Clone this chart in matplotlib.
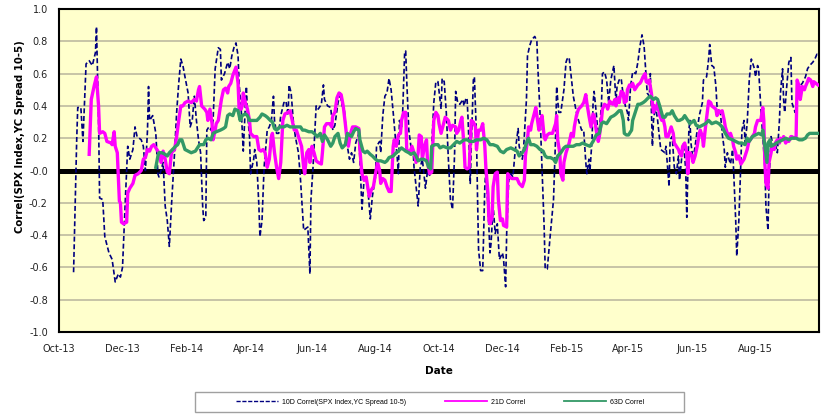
import numpy as np
import pandas as pd
import matplotlib
matplotlib.use("Agg")
import matplotlib.pyplot as plt
import matplotlib.dates as mdates
from matplotlib.lines import Line2D
from matplotlib.patches import Rectangle

# Data: day offsets from the start date and correlation values
start_date = pd.Timestamp("2013-10-01")

d10_days = [14, 17, 18, 21, 23, 26, 29, 32, 35, 36, 38, 39, 42, 44, 48, 51, 54, 57, 59, 61,
            64, 66, 68, 71, 73, 75, 77, 79, 81, 83, 85, 86, 87, 90, 93, 95, 96, 98, 100, 102,
            104, 106, 108, 111, 113, 115, 117, 119, 121, 124, 126, 128, 130, 132, 134, 136, 138, 139, 141, 142,
            144, 146, 148, 150, 153, 155, 156, 159, 162, 164, 166, 168, 170, 172, 173, 175, 176, 177, 179, 180,
            181, 183, 184, 187, 188, 190, 192, 193, 195, 197, 200, 202, 204, 206, 207, 209, 211, 213, 216, 218,
            220, 221, 223, 225, 227, 230, 232, 233, 235, 237, 239, 241, 242, 244, 245, 247, 249, 252, 254, 255,
            258, 261, 263, 265, 268, 270, 272, 274, 277, 279, 281, 283, 285, 288, 289, 291, 293, 295, 297, 299,
            301, 304, 305, 308, 309, 311, 313, 315, 317, 319, 321, 323, 325, 326, 327, 329, 330, 332, 333, 334,
            336, 338, 340, 341, 343, 345, 347, 349, 352, 354, 356, 358, 360, 362, 364, 367, 368, 370, 372, 374,
            376, 378, 380, 381, 383, 385, 388, 389, 391, 392, 393, 395, 396, 398, 399, 401, 402, 403, 405, 407,
            409, 410, 412, 414, 415, 417, 419, 421, 423, 426, 427, 429, 430, 432, 434, 436, 438, 441, 442, 445,
            446, 449, 450, 452, 454, 457, 459, 460, 462, 464, 466, 467, 469, 472, 475, 477, 478, 480, 482, 485,
            487, 488, 490, 492, 494, 497, 499, 502, 504, 506, 507, 509, 510, 512, 513, 514, 516, 518, 519, 521,
            522, 524, 526, 528, 530, 533, 535, 536, 538, 540, 542, 544, 546, 547, 549, 551, 554, 556, 558, 560,
            562, 563, 565, 567, 568, 570, 571, 573, 575, 578, 580, 582, 583, 586, 587, 589, 591, 593, 595, 596,
            598, 600, 602, 603, 605, 606, 607, 609, 611, 613, 615, 618, 619, 622, 624, 625, 627, 629, 631, 632,
            634, 635, 637, 639, 640, 642, 643, 645, 647, 648, 650, 651, 653, 655, 656, 658, 659, 661, 663, 665,
            668, 669, 671, 672, 674, 676, 678, 679, 681, 682, 684, 686, 688, 690, 692, 693, 695, 696, 697, 699,
            701, 703, 704, 707, 709, 711, 714, 717, 719, 721, 724, 726, 728, 730]
d10_vals = [-0.63, 0.19, 0.39, 0.39, 0.18, 0.66, 0.68, 0.65, 0.73, 0.89, 0.31, -0.17, -0.18, -0.41, -0.51, -0.55, -0.69, -0.64, -0.66, -0.60,
            -0.14, 0.15, 0.07, 0.13, 0.27, 0.21, 0.20, 0.19, 0.15, 0.00, 0.25, 0.52, 0.31, 0.34, 0.23, -0.02, -0.04, 0.00, 0.05, -0.22,
            -0.31, -0.47, -0.22, 0.11, 0.36, 0.54, 0.69, 0.65, 0.58, 0.48, 0.27, 0.31, 0.46, 0.31, 0.19, 0.11, -0.22, -0.31, -0.29, 0.25,
            0.27, 0.25, 0.31, 0.63, 0.76, 0.75, 0.56, 0.60, 0.67, 0.63, 0.71, 0.76, 0.79, 0.71, 0.54, 0.38, 0.25, 0.12, 0.40, 0.52,
            0.36, 0.21, -0.02, 0.07, 0.13, 0.05, -0.22, -0.41, -0.31, 0.02, 0.25, 0.27, 0.31, 0.46, 0.31, 0.23, 0.23, 0.34, 0.42, 0.43,
            0.34, 0.53, 0.48, 0.31, 0.21, 0.11, -0.06, -0.16, -0.37, -0.36, -0.35, -0.64, -0.18, 0.02, 0.15, 0.40, 0.38, 0.41, 0.53, 0.44,
            0.40, 0.39, 0.25, 0.28, 0.42, 0.48, 0.40, 0.38, 0.15, 0.07, 0.11, 0.05, 0.17, 0.23, 0.07, -0.24, -0.06, -0.04, -0.14, -0.30,
            -0.16, -0.04, 0.15, 0.18, 0.11, 0.34, 0.46, 0.48, 0.57, 0.50, 0.36, 0.21, 0.07, -0.02, 0.31, 0.27, 0.34, 0.73, 0.74, 0.56,
            0.25, 0.15, 0.15, 0.02, -0.10, -0.22, 0.02, 0.07, -0.11, 0.00, -0.03, 0.15, 0.42, 0.55, 0.55, 0.38, 0.57, 0.55, 0.36, 0.07,
            -0.18, -0.24, 0.11, 0.49, 0.42, 0.41, 0.44, 0.40, 0.45, 0.44, 0.31, -0.08, 0.15, 0.56, 0.58, 0.21, -0.16, -0.49, -0.62, -0.62,
            -0.10, 0.00, -0.22, -0.51, -0.45, -0.22, -0.39, -0.33, -0.55, -0.51, -0.55, -0.72, -0.39, -0.06, -0.02, -0.04, 0.11, 0.26, 0.15, 0.07,
            0.11, 0.44, 0.71, 0.77, 0.81, 0.83, 0.80, 0.63, 0.36, 0.00, -0.35, -0.61, -0.61, -0.39, -0.18, 0.21, 0.52, 0.36, 0.36, 0.50,
            0.67, 0.69, 0.70, 0.58, 0.46, 0.36, 0.31, 0.25, 0.25, 0.05, -0.02, 0.07, 0.00, 0.19, 0.42, 0.49, 0.36, 0.21, 0.25, 0.40,
            0.60, 0.61, 0.56, 0.42, 0.56, 0.65, 0.42, 0.52, 0.56, 0.57, 0.46, 0.40, 0.36, 0.31, 0.52, 0.61, 0.60, 0.67, 0.77, 0.84,
            0.77, 0.67, 0.48, 0.46, 0.60, 0.15, 0.31, 0.40, 0.31, 0.13, 0.12, 0.11, 0.15, -0.10, 0.19, 0.21, 0.02, -0.02, 0.09, -0.06,
            0.07, 0.17, 0.00, -0.29, 0.25, 0.31, 0.17, 0.07, 0.15, 0.25, 0.34, 0.42, 0.56, 0.58, 0.69, 0.78, 0.65, 0.64, 0.52, 0.40,
            0.36, 0.38, 0.23, 0.13, 0.02, 0.11, 0.08, 0.04, 0.13, 0.00, -0.31, -0.53, -0.31, 0.07, 0.25, 0.31, 0.17, 0.29, 0.56, 0.69,
            0.63, 0.58, 0.65, 0.63, 0.40, 0.21, 0.02, -0.22, -0.37, -0.06, 0.21, 0.15, 0.17, 0.11, 0.31, 0.48, 0.63, 0.44, 0.36, 0.52,
            0.67, 0.70, 0.42, 0.36, 0.46, 0.52, 0.54, 0.58, 0.63, 0.65, 0.67, 0.69, 0.72, 0.71]

d21_days = [29, 31, 34, 36, 38, 39, 42, 44, 46, 50, 51, 53, 54, 56, 58, 59, 60, 62, 65, 66,
            68, 71, 73, 76, 79, 81, 83, 85, 87, 89, 91, 94, 96, 98, 100, 102, 104, 106, 108, 111,
            113, 115, 117, 119, 121, 124, 127, 130, 132, 134, 135, 137, 140, 142, 143, 145, 147, 148, 150, 151,
            153, 156, 158, 160, 162, 163, 165, 167, 170, 172, 173, 175, 176, 177, 179, 181, 183, 184, 187, 190,
            192, 194, 196, 198, 200, 202, 204, 205, 207, 209, 211, 213, 215, 217, 220, 222, 224, 226, 228, 230,
            233, 235, 236, 238, 240, 241, 243, 245, 247, 249, 252, 253, 255, 257, 260, 262, 263, 265, 267, 269,
            271, 273, 275, 277, 278, 280, 282, 285, 288, 289, 291, 293, 295, 296, 298, 300, 302, 304, 306, 308,
            309, 311, 313, 315, 317, 319, 321, 322, 324, 326, 328, 329, 331, 333, 334, 337, 339, 341, 343, 345,
            346, 348, 349, 351, 353, 354, 356, 358, 360, 362, 364, 365, 367, 369, 371, 374, 376, 378, 381, 382,
            384, 386, 387, 389, 390, 392, 394, 396, 398, 400, 401, 402, 403, 405, 407, 409, 410, 412, 413, 414,
            416, 417, 419, 421, 422, 424, 426, 427, 430, 431, 433, 435, 437, 440, 442, 445, 447, 448, 450, 451,
            453, 454, 456, 458, 459, 461, 462, 464, 466, 467, 469, 471, 474, 475, 477, 478, 479, 481, 482, 484,
            485, 487, 490, 492, 494, 495, 497, 499, 502, 504, 506, 507, 509, 511, 513, 514, 516, 518, 519, 521,
            522, 524, 526, 527, 529, 530, 532, 534, 535, 537, 538, 540, 542, 543, 545, 546, 548, 550, 551, 553,
            555, 556, 558, 559, 561, 563, 564, 566, 567, 569, 571, 572, 574, 575, 577, 579, 580, 582, 583, 585,
            587, 588, 590, 591, 593, 595, 596, 598, 599, 601, 603, 604, 605, 606, 608, 609, 611, 613, 615, 616,
            618, 619, 621, 623, 624, 626, 627, 629, 631, 632, 634, 635, 637, 639, 640, 642, 643, 645, 647, 648,
            650, 651, 653, 655, 656, 658, 659, 661, 663, 664, 666, 668, 669, 671, 672, 674, 676, 677, 678, 679,
            681, 682, 684, 685, 687, 688, 690, 692, 693, 695, 696, 698, 700, 701, 703, 704, 706, 708, 709, 711,
            712, 714, 716, 717, 719, 720, 722, 724, 725, 727, 729]
d21_vals = [0.10, 0.44, 0.53, 0.58, 0.40, 0.23, 0.24, 0.23, 0.18, 0.17, 0.16, 0.24, 0.15, 0.11, -0.19, -0.20, -0.32, -0.33, -0.32, -0.14,
            -0.11, -0.08, -0.03, -0.02, 0.00, 0.07, 0.08, 0.13, 0.12, 0.15, 0.16, 0.13, 0.11, 0.05, 0.12, 0.07, -0.01, -0.02, 0.11, 0.13,
            0.21, 0.31, 0.40, 0.40, 0.42, 0.43, 0.42, 0.44, 0.43, 0.50, 0.52, 0.40, 0.38, 0.36, 0.31, 0.38, 0.29, 0.19, 0.25, 0.29,
            0.31, 0.44, 0.50, 0.51, 0.48, 0.52, 0.54, 0.59, 0.64, 0.54, 0.38, 0.38, 0.40, 0.48, 0.42, 0.38, 0.31, 0.23, 0.21, 0.21,
            0.13, 0.12, 0.13, 0.11, 0.02, 0.07, 0.21, 0.23, 0.11, 0.02, -0.05, 0.05, 0.31, 0.35, 0.36, 0.37, 0.31, 0.25, 0.25, 0.21,
            0.15, 0.02, -0.02, 0.11, 0.13, 0.05, 0.15, 0.11, 0.06, 0.05, 0.04, 0.11, 0.27, 0.29, 0.29, 0.27, 0.34, 0.36, 0.45, 0.48,
            0.47, 0.40, 0.29, 0.17, 0.15, 0.23, 0.27, 0.27, 0.26, 0.13, -0.02, -0.06, -0.04, -0.08, -0.16, -0.12, -0.10, -0.02, 0.05, 0.00,
            -0.08, -0.05, -0.06, -0.10, -0.13, -0.13, 0.15, 0.19, 0.15, 0.22, 0.23, 0.31, 0.36, 0.36, 0.13, 0.11, 0.15, 0.11, 0.05, 0.11,
            0.22, 0.21, 0.07, 0.15, 0.19, 0.05, -0.02, -0.01, 0.31, 0.36, 0.34, 0.29, 0.23, 0.28, 0.33, 0.31, 0.25, 0.28, 0.27, 0.23,
            0.25, 0.31, 0.33, 0.15, 0.02, 0.01, 0.02, 0.31, 0.30, 0.27, 0.13, 0.19, 0.25, 0.25, 0.29, 0.15, 0.02, -0.14, -0.31, -0.33,
            -0.29, -0.10, -0.02, -0.01, -0.18, -0.31, -0.30, -0.34, -0.35, -0.02, -0.04, -0.05, -0.05, -0.05, -0.08, -0.10, -0.06, 0.09, 0.19, 0.27,
            0.25, 0.29, 0.34, 0.39, 0.34, 0.25, 0.29, 0.34, 0.21, 0.19, 0.22, 0.23, 0.23, 0.25, 0.29, 0.34, 0.19, 0.11, -0.02, -0.06,
            0.05, 0.11, 0.17, 0.23, 0.21, 0.27, 0.34, 0.38, 0.40, 0.42, 0.47, 0.42, 0.34, 0.27, 0.35, 0.34, 0.25, 0.18, 0.21, 0.31,
            0.38, 0.41, 0.40, 0.38, 0.43, 0.42, 0.41, 0.44, 0.40, 0.45, 0.42, 0.49, 0.48, 0.42, 0.43, 0.50, 0.53, 0.52, 0.54, 0.50,
            0.52, 0.53, 0.54, 0.55, 0.58, 0.60, 0.55, 0.54, 0.56, 0.48, 0.36, 0.40, 0.38, 0.42, 0.34, 0.31, 0.33, 0.27, 0.21, 0.21,
            0.25, 0.27, 0.23, 0.17, 0.15, 0.13, 0.11, 0.09, 0.15, 0.17, 0.11, -0.02, 0.11, 0.11, 0.09, 0.05, 0.09, 0.15, 0.23, 0.25,
            0.21, 0.15, 0.27, 0.38, 0.43, 0.42, 0.40, 0.39, 0.38, 0.34, 0.37, 0.36, 0.37, 0.31, 0.27, 0.23, 0.21, 0.23, 0.19, 0.15,
            0.11, 0.07, 0.09, 0.04, 0.05, 0.07, 0.09, 0.13, 0.19, 0.19, 0.21, 0.23, 0.27, 0.31, 0.31, 0.31, 0.39, 0.31, 0.05, -0.08,
            -0.11, 0.05, 0.11, 0.15, 0.13, 0.17, 0.19, 0.17, 0.20, 0.19, 0.21, 0.17, 0.19, 0.18, 0.21, 0.21, 0.20, 0.21, 0.56, 0.52,
            0.44, 0.52, 0.50, 0.52, 0.55, 0.57, 0.56, 0.52, 0.55, 0.54, 0.53]

d63_days = [93, 95, 96, 99, 102, 104, 106, 109, 112, 114, 116, 118, 119, 121, 124, 127, 131, 133, 135, 139,
            141, 143, 146, 148, 151, 155, 158, 160, 162, 164, 167, 169, 172, 174, 176, 179, 181, 183, 187, 190,
            193, 195, 198, 200, 203, 205, 207, 209, 212, 216, 219, 222, 225, 228, 232, 234, 236, 240, 243, 245,
            248, 251, 253, 255, 258, 261, 263, 265, 268, 270, 272, 275, 277, 279, 281, 283, 285, 288, 289, 292,
            294, 296, 299, 301, 304, 306, 309, 313, 315, 317, 321, 324, 326, 329, 331, 333, 336, 338, 341, 343,
            345, 348, 350, 353, 355, 357, 358, 361, 364, 366, 369, 373, 376, 379, 382, 385, 389, 392, 395, 398,
            401, 405, 408, 411, 414, 417, 421, 424, 427, 430, 434, 437, 440, 442, 445, 447, 450, 451, 453, 456,
            459, 462, 465, 467, 469, 472, 475, 477, 479, 482, 485, 487, 490, 494, 497, 500, 503, 506, 510, 513,
            516, 519, 521, 523, 526, 528, 530, 533, 535, 538, 540, 542, 543, 545, 547, 550, 551, 554, 556, 558,
            561, 563, 566, 568, 571, 573, 575, 577, 580, 582, 584, 587, 589, 591, 594, 596, 599, 601, 603, 606,
            608, 610, 612, 615, 618, 621, 624, 627, 631, 634, 637, 640, 643, 647, 650, 653, 656, 659, 661, 663,
            666, 669, 672, 675, 676, 678, 680, 681, 683, 684, 687, 689, 692, 695, 698, 701, 704, 708, 711, 714,
            717, 719, 721, 724, 727, 730]
d63_vals = [0.02, 0.09, 0.11, 0.11, 0.10, 0.09, 0.11, 0.13, 0.15, 0.16, 0.19, 0.19, 0.17, 0.13, 0.12, 0.11, 0.12, 0.14, 0.16, 0.16,
            0.19, 0.20, 0.19, 0.23, 0.24, 0.25, 0.26, 0.27, 0.34, 0.35, 0.34, 0.38, 0.37, 0.31, 0.34, 0.35, 0.34, 0.31, 0.31, 0.31,
            0.33, 0.35, 0.34, 0.33, 0.31, 0.30, 0.26, 0.25, 0.27, 0.27, 0.28, 0.27, 0.27, 0.27, 0.27, 0.25, 0.25, 0.24, 0.24, 0.23,
            0.21, 0.23, 0.18, 0.22, 0.19, 0.15, 0.17, 0.21, 0.23, 0.17, 0.14, 0.16, 0.23, 0.22, 0.21, 0.24, 0.26, 0.25, 0.19, 0.12,
            0.11, 0.12, 0.10, 0.09, 0.07, 0.06, 0.06, 0.05, 0.06, 0.08, 0.09, 0.11, 0.12, 0.14, 0.13, 0.12, 0.11, 0.10, 0.11, 0.09,
            0.06, 0.07, 0.07, 0.06, 0.02, 0.01, 0.15, 0.16, 0.16, 0.14, 0.15, 0.14, 0.14, 0.16, 0.18, 0.17, 0.19, 0.19, 0.18, 0.18,
            0.19, 0.19, 0.20, 0.19, 0.16, 0.16, 0.15, 0.12, 0.11, 0.13, 0.14, 0.13, 0.12, 0.09, 0.11, 0.13, 0.19, 0.20, 0.16, 0.16,
            0.15, 0.13, 0.12, 0.09, 0.08, 0.08, 0.07, 0.05, 0.09, 0.11, 0.14, 0.15, 0.15, 0.15, 0.16, 0.16, 0.17, 0.16, 0.15, 0.18,
            0.22, 0.23, 0.29, 0.30, 0.29, 0.31, 0.33, 0.34, 0.35, 0.37, 0.37, 0.31, 0.23, 0.22, 0.22, 0.25, 0.31, 0.37, 0.41, 0.41,
            0.42, 0.43, 0.45, 0.46, 0.44, 0.45, 0.44, 0.40, 0.33, 0.33, 0.35, 0.35, 0.37, 0.34, 0.31, 0.31, 0.32, 0.34, 0.32, 0.29,
            0.30, 0.31, 0.28, 0.27, 0.28, 0.29, 0.31, 0.29, 0.30, 0.29, 0.27, 0.23, 0.20, 0.19, 0.18, 0.17, 0.17, 0.16, 0.20, 0.18,
            0.21, 0.22, 0.23, 0.22, 0.25, 0.15, 0.05, 0.17, 0.19, 0.15, 0.16, 0.17, 0.18, 0.19, 0.20, 0.19, 0.20, 0.20, 0.19, 0.19,
            0.20, 0.22, 0.23, 0.23, 0.23, 0.23]

tick_dates = pd.date_range("2013-10-01", "2015-08-01", freq="2MS")
labels = ["10D Correl(SPX Index,YC Spread 10-5)", "21D Correl", "63D Correl"]


def to_dates(days):
    return start_date + pd.to_timedelta(days, unit="D")


fig = plt.figure(figsize=(8.26, 4.16), dpi=100)
ax = fig.add_axes([59 / 826, 1 - 332 / 416, 760 / 826, 323 / 416])
ax.set_facecolor("#FFFFCC")

# Zero line sits under the series
ax.axhline(0, color="black", lw=3.6, zorder=2)

ax.plot(to_dates(d10_days), d10_vals, color="#000080", lw=1.2,
        linestyle=(0, (3, 1.6)), zorder=3)
ax.plot(to_dates(d21_days), d21_vals, color="#FF00FF", lw=2.4, zorder=4)
ax.plot(to_dates(d63_days), d63_vals, color="#339966", lw=2.4, zorder=5)

ax.set_ylim(-1.0, 1.0)
ax.set_yticks(np.arange(-1.0, 1.01, 0.2))
ax.yaxis.set_major_formatter(plt.FormatStrFormatter("%.1f"))
ax.set_xlim(start_date, pd.Timestamp("2015-10-01"))
ax.set_xticks(tick_dates)
ax.xaxis.set_major_formatter(mdates.DateFormatter("%b-%y"))

ax.yaxis.grid(True, color="#B8B49C", lw=1.1, zorder=1)
ax.set_axisbelow(True)
ax.tick_params(axis="both", length=0, labelsize=7, colors="#222222")
ax.tick_params(axis="y", pad=8)
ax.tick_params(axis="x", pad=9)

for sp in ax.spines.values():
    sp.set_color("black")
    sp.set_linewidth(1.5)

ax.set_xlabel("Date", fontsize=7.5, fontweight="bold", labelpad=8)
fig.text(20 / 826, 1 - 137 / 416, "Correl(SPX Index,YC Spread 10-5)", rotation=90,
         ha="center", va="center", fontsize=7.3, fontweight="bold")

# Legend box at the bottom
fig.patches.append(Rectangle((195 / 826, 1 - 412 / 416), 489 / 826, 20 / 416,
                             transform=fig.transFigure, fill=False,
                             edgecolor="#A0A0A0", lw=1.0))
handles = [
    Line2D([], [], color="#000080", lw=1.0, linestyle=(0, (3, 1.2))),
    Line2D([], [], color="#FF00FF", lw=1.3),
    Line2D([], [], color="#339966", lw=1.3),
]
fig.legend(handles, labels, loc="center", bbox_to_anchor=(440 / 826, 1 - 402 / 416),
           ncol=3, frameon=False, handlelength=6.0, handletextpad=0.6,
           columnspacing=5.6, prop={"family": "Liberation Sans", "size": 5})

fig.savefig("out.png", dpi=100)
